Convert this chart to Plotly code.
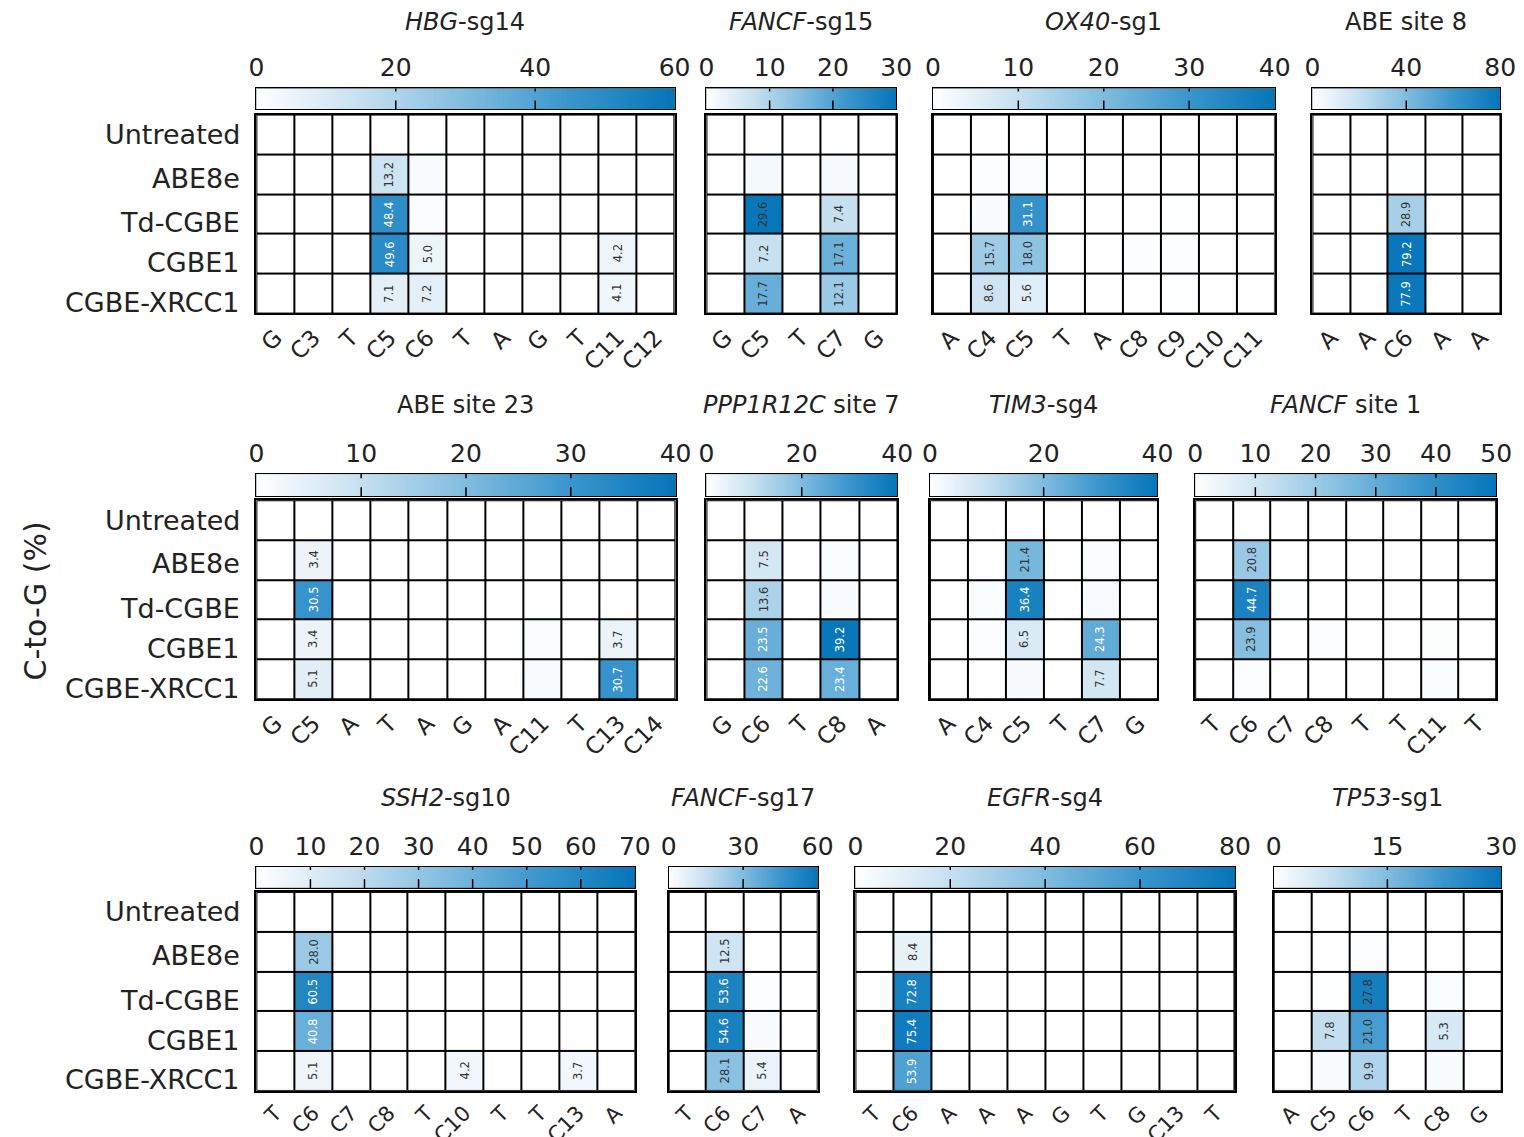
import numpy as np
import plotly.graph_objects as go

# ---------------- data ----------------
ROWS = ["Untreated", "ABE8e", "Td-CGBE", "CGBE1", "CGBE-XRCC1"]

hbg_title = "<i>HBG</i>-sg14"
hbg_cols = ["G", "C3", "T", "C5", "C6", "T", "A", "G", "T", "C11", "C12"]
hbg_vals = [
    [0, 0, 0, 0, 0, 0, 0, 0, 0, 0, 0],
    [0, 0, 0, 13.2, 1.5, 0, 0, 0, 0, 0, 0],
    [0, 0.3, 0, 48.4, 1.2, 0, 0, 0, 0, 0, 0],
    [0, 0, 0, 49.6, 5.0, 0, 0, 0, 0, 4.2, 0],
    [0, 0, 0, 7.1, 7.2, 0, 0, 0, 0, 4.1, 0],
]
hbg_ticks = [0, 20, 40, 60]

fancf15_title = "<i>FANCF</i>-sg15"
fancf15_cols = ["G", "C5", "T", "C7", "G"]
fancf15_vals = [
    [0, 0, 0, 0, 0],
    [0, 1.5, 0, 1.2, 0],
    [0, 29.6, 0, 7.4, 0],
    [0, 7.2, 0, 17.1, 0],
    [0, 17.7, 0, 12.1, 0],
]
fancf15_ticks = [0, 10, 20, 30]

ox40_title = "<i>OX40</i>-sg1"
ox40_cols = ["A", "C4", "C5", "T", "A", "C8", "C9", "C10", "C11"]
ox40_vals = [
    [0, 0, 0, 0, 0, 0, 0, 0, 0],
    [0, 0.5, 0.8, 0, 0, 0, 0, 0, 0],
    [0, 1.0, 31.1, 0, 0, 0, 0.4, 0, 0],
    [0, 15.7, 18.0, 0, 0, 0.5, 0.5, 0, 0],
    [0, 8.6, 5.6, 0, 0, 0, 0.3, 0, 0],
]
ox40_ticks = [0, 10, 20, 30, 40]

abe8_title = "ABE site 8"
abe8_cols = ["A", "A", "C6", "A", "A"]
abe8_vals = [
    [0, 0, 0, 0, 0],
    [0, 0, 0.6, 0, 0],
    [0, 0, 28.9, 0, 0],
    [0, 0, 79.2, 0, 0],
    [0, 0, 77.9, 0, 0],
]
abe8_ticks = [0, 40, 80]

abe23_title = "ABE site 23"
abe23_cols = ["G", "C5", "A", "T", "A", "G", "A", "C11", "T", "C13", "C14"]
abe23_vals = [
    [0, 0, 0, 0, 0, 0, 0, 0, 0, 0, 0],
    [0, 3.4, 0, 0, 0, 0, 0, 0, 0, 0, 0],
    [0, 30.5, 0, 0, 0, 0, 0, 0, 0, 0, 0],
    [0, 3.4, 0, 0, 0, 0, 0, 0.8, 0, 3.7, 0],
    [0, 5.1, 0, 0, 0, 0, 0, 1.2, 0, 30.7, 0],
]
abe23_ticks = [0, 10, 20, 30, 40]

ppp_title = "<i>PPP1R12C</i> site 7"
ppp_cols = ["G", "C6", "T", "C8", "A"]
ppp_vals = [
    [0, 0, 0, 0, 0],
    [0, 7.5, 0, 0.8, 0],
    [0, 13.6, 0, 1.0, 0],
    [0, 23.5, 0, 39.2, 0],
    [0, 22.6, 0, 23.4, 0],
]
ppp_ticks = [0, 20, 40]

tim3_title = "<i>TIM3</i>-sg4"
tim3_cols = ["A", "C4", "C5", "T", "C7", "G"]
tim3_vals = [
    [0, 0, 0, 0, 0, 0],
    [0, 0, 21.4, 0, 0.8, 0],
    [0, 0.8, 36.4, 0, 1.2, 0],
    [0, 0.6, 6.5, 0, 24.3, 0],
    [0, 0, 1.5, 0, 7.7, 0],
]
tim3_ticks = [0, 20, 40]

fancf1_title = "<i>FANCF</i> site 1"
fancf1_cols = ["T", "C6", "C7", "C8", "T", "T", "C11", "T"]
fancf1_vals = [
    [0, 0, 0, 0, 0, 0, 0, 0],
    [0, 20.8, 0, 0, 0, 0, 0, 0],
    [0, 44.7, 0.5, 0.3, 0, 0, 0, 0],
    [0, 23.9, 0, 0.8, 0, 0, 0.6, 0],
    [0, 0.8, 0.3, 0.3, 0, 0, 1.0, 0],
]
fancf1_ticks = [0, 10, 20, 30, 40, 50]

ssh2_title = "<i>SSH2</i>-sg10"
ssh2_cols = ["T", "C6", "C7", "C8", "T", "C10", "T", "T", "C13", "A"]
ssh2_vals = [
    [0, 0, 0, 0, 0, 0, 0, 0, 0, 0],
    [0, 28.0, 0, 0, 0, 0, 0, 0, 0, 0],
    [0, 60.5, 0, 0, 0, 0, 0, 0, 0, 0],
    [0, 40.8, 0, 0, 0, 0, 0, 0, 0, 0],
    [0, 5.1, 0, 0, 0, 4.2, 0, 0, 3.7, 0],
]
ssh2_ticks = [0, 10, 20, 30, 40, 50, 60, 70]

fancf17_title = "<i>FANCF</i>-sg17"
fancf17_cols = ["T", "C6", "C7", "A"]
fancf17_vals = [
    [0, 0, 0, 0],
    [0, 12.5, 0.3, 0],
    [0, 53.6, 0.8, 0],
    [0, 54.6, 1.5, 0],
    [0, 28.1, 5.4, 0],
]
fancf17_ticks = [0, 30, 60]

egfr_title = "<i>EGFR</i>-sg4"
egfr_cols = ["T", "C6", "A", "A", "A", "G", "T", "G", "C13", "T"]
egfr_vals = [
    [0, 0, 0, 0, 0, 0, 0, 0, 0, 0],
    [0, 8.4, 0, 0, 0, 0, 0, 0, 0, 0],
    [0, 72.8, 0, 0, 0, 0, 0, 0, 0, 0],
    [0, 75.4, 0, 0, 0, 0, 0, 0, 0, 0],
    [0, 53.9, 0, 0, 0, 0, 0, 0, 0.4, 0],
]
egfr_ticks = [0, 20, 40, 60, 80]

tp53_title = "<i>TP53</i>-sg1"
tp53_cols = ["A", "C5", "C6", "T", "C8", "G"]
tp53_vals = [
    [0, 0, 0, 0, 0, 0],
    [0, 0, 0.4, 0, 0, 0],
    [0, 0.3, 27.8, 0, 0.6, 0],
    [0, 7.8, 21.0, 0, 5.3, 0],
    [0, 1.0, 9.9, 0, 0.8, 0],
]
tp53_ticks = [0, 15, 30]

PANELS = [
    (hbg_title, hbg_cols, hbg_vals, hbg_ticks),
    (fancf15_title, fancf15_cols, fancf15_vals, fancf15_ticks),
    (ox40_title, ox40_cols, ox40_vals, ox40_ticks),
    (abe8_title, abe8_cols, abe8_vals, abe8_ticks),
    (abe23_title, abe23_cols, abe23_vals, abe23_ticks),
    (ppp_title, ppp_cols, ppp_vals, ppp_ticks),
    (tim3_title, tim3_cols, tim3_vals, tim3_ticks),
    (fancf1_title, fancf1_cols, fancf1_vals, fancf1_ticks),
    (ssh2_title, ssh2_cols, ssh2_vals, ssh2_ticks),
    (fancf17_title, fancf17_cols, fancf17_vals, fancf17_ticks),
    (egfr_title, egfr_cols, egfr_vals, egfr_ticks),
    (tp53_title, tp53_cols, tp53_vals, tp53_ticks),
]

# ---------------- layout / style ----------------
REF_W, REF_H = 1524, 1137          # reference picture size (positions below are in its pixels)
FIG_W, FIG_H = 1538, 1147          # figure size that fills the captured viewport
FONT = "DejaVu Sans"
TXT = "#222222"
BOX_X = [(250, 671), (703, 894), (931, 1275), (1313, 1502),
         (250, 672), (703, 895), (928, 1157), (1195, 1498),
         (250, 631), (665, 815), (853, 1235), (1274, 1503)]
ROW_Y = [dict(grid=(114, 312), cbar=(88, 109), title=22),
         dict(grid=(498, 696), cbar=(472, 494), title=403),
         dict(grid=(888, 1086), cbar=(863, 884), title=795)]
ROW_LABEL_SHIFT = [0, -4, -9, -9, -9]
COL_LABEL_SIZE = [23, 23, 21]
WHITE_TEXT = [True, False, True, True, True, True, True, True, True, True, True, False]

CSCALE = [[0.0, "#ffffff"], [0.25, "#c6e0f0"], [0.5, "#80bcdf"],
          [0.75, "#3a95cc"], [1.0, "#0575b9"]]


def px_x(p):
    return p / REF_W


def px_y(p):
    return 1 - p / REF_H


def ax_name(kind, i):
    return f"{kind}axis" if i == 1 else f"{kind}axis{i}"


def ax_ref(kind, i):
    return kind if i == 1 else f"{kind}{i}"


fig = go.Figure()
layout = {}
annotations = []
shapes = []

for k, (title, cols, vals, ticks) in enumerate(PANELS):
    row = k // 4
    vmax = ticks[-1]
    a, b = 2 * k + 1, 2 * k + 2
    xl, xr = BOX_X[k]
    gy0, gy1 = ROW_Y[row]["grid"]
    cy0, cy1 = ROW_Y[row]["cbar"]
    n = len(cols)

    # heatmap of the edits
    fig.add_trace(go.Heatmap(
        z=vals, x=list(range(n)), y=list(range(len(ROWS))),
        zmin=0, zmax=vmax, colorscale=CSCALE, showscale=False,
        xgap=2, ygap=2, hoverinfo="skip",
        xaxis=ax_ref("x", a), yaxis=ax_ref("y", a)))
    layout[ax_name("x", a)] = dict(
        domain=[px_x(xl), px_x(xr)], range=[-0.5, n - 0.5], anchor=ax_ref("y", a),
        tickvals=list(range(n)), ticktext=cols, tickangle=-45,
        tickfont=dict(size=COL_LABEL_SIZE[row], color=TXT, family=FONT), ticks="",
        showgrid=False, zeroline=False, showline=True, mirror=True,
        linecolor="black", linewidth=1.5, fixedrange=True)
    layout[ax_name("y", a)] = dict(
        domain=[px_y(gy1), px_y(gy0)], range=[len(ROWS) - 0.5, -0.5], anchor=ax_ref("x", a),
        showticklabels=False, ticks="", showgrid=False, zeroline=False,
        showline=True, mirror=True, linecolor="black", linewidth=1.5, fixedrange=True)

    # colour bar drawn as its own gradient strip
    grad = np.linspace(0, vmax, 256)
    fig.add_trace(go.Heatmap(
        z=[grad], x=grad, y=[0], zmin=0, zmax=vmax, colorscale=CSCALE,
        showscale=False, hoverinfo="skip",
        xaxis=ax_ref("x", b), yaxis=ax_ref("y", b)))
    layout[ax_name("x", b)] = dict(
        domain=[px_x(xl), px_x(xr)], range=[0, vmax], anchor=ax_ref("y", b),
        side="top", tickvals=ticks, ticktext=[str(t) for t in ticks],
        tickfont=dict(size=25, color=TXT, family=FONT), ticks="",
        ticklabelstandoff=1,
        showgrid=False, zeroline=False, showline=True, mirror=True,
        linecolor="black", linewidth=1.2, fixedrange=True)
    layout[ax_name("y", b)] = dict(
        domain=[px_y(cy1), px_y(cy0)], range=[-0.5, 0.5], anchor=ax_ref("x", b),
        showticklabels=False, ticks="", showgrid=False, zeroline=False,
        showline=True, mirror=True, linecolor="black", linewidth=1.2, fixedrange=True)
    for t in ticks[1:-1]:
        shapes.append(dict(type="line", xref=ax_ref("x", b), yref=ax_ref("y", b) + " domain",
                           x0=t, x1=t, y0=0, y1=1,
                           line=dict(color="black", width=1.5, dash="dash"), layer="above"))

    # panel title
    annotations.append(dict(
        text=title, xref="paper", yref="paper",
        x=px_x((xl + xr) / 2), y=px_y(ROW_Y[row]["title"]),
        xanchor="center", yanchor="middle", showarrow=False,
        font=dict(size=24, color=TXT, family=FONT)))

    # cell values
    for r, rv in enumerate(vals):
        for c, v in enumerate(rv):
            if v >= 3:
                white = WHITE_TEXT[k] and v / vmax >= 0.55
                annotations.append(dict(
                    text=f"{v:.1f}", xref=ax_ref("x", a), yref=ax_ref("y", a),
                    x=c, y=r, textangle=-90, showarrow=False,
                    font=dict(size=11.5, color="#ffffff" if white else "#333333", family=FONT)))

    # row labels on the first panel of each row
    if k % 4 == 0:
        for r, lab in enumerate(ROWS):
            annotations.append(dict(
                text=lab, xref="paper", yref=ax_ref("y", a),
                x=px_x(xl - 14), y=r, yshift=ROW_LABEL_SHIFT[r],
                xanchor="right", yanchor="middle", showarrow=False,
                font=dict(size=27, color=TXT, family=FONT)))

annotations.append(dict(
    text="C-to-G (%)", xref="paper", yref="paper",
    x=px_x(28), y=px_y(598), textangle=-90, showarrow=False,
    xanchor="center", yanchor="middle",
    font=dict(size=30, color=TXT, family=FONT)))

fig.update_layout(
    width=FIG_W, height=FIG_H, margin=dict(l=0, r=0, t=0, b=0),
    paper_bgcolor="white", plot_bgcolor="black",
    font=dict(family=FONT, color=TXT),
    showlegend=False, annotations=annotations, shapes=shapes, **layout)

PAGE_CSS_JS = ("document.body.style.margin='0';"
               "document.body.style.overflow='hidden';"
               "document.documentElement.style.overflow='hidden';")

fig.write_html("out.html", post_script=PAGE_CSS_JS, config={"displayModeBar": False})
